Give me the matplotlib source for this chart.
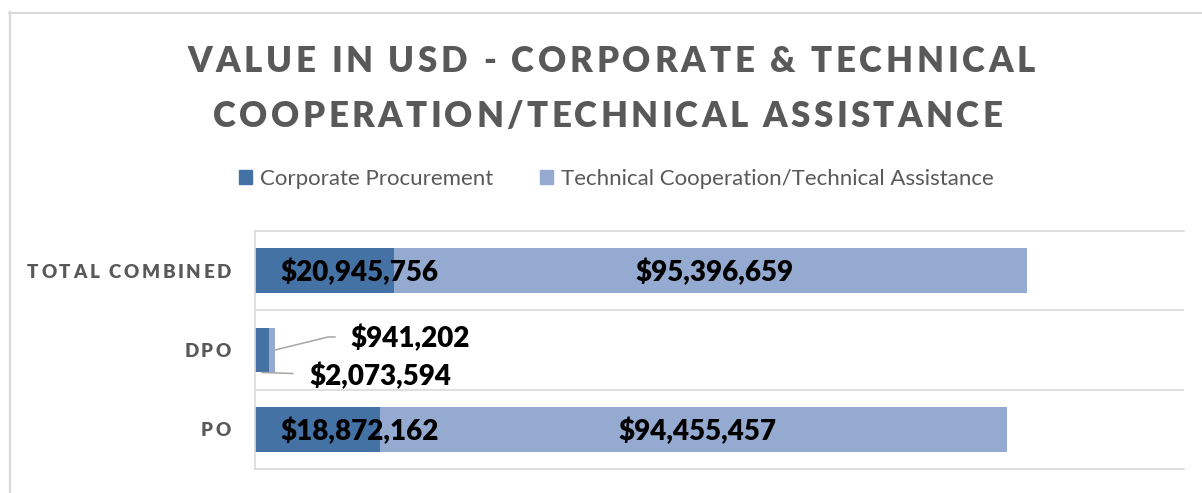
import matplotlib
matplotlib.use('Agg')
import matplotlib.pyplot as plt
import numpy as np
from matplotlib.font_manager import FontProperties, findfont, get_font
from matplotlib.lines import Line2D
from matplotlib.patches import Patch
from matplotlib.transforms import IdentityTransform
try:
    from matplotlib.ft2font import LoadFlags
    NOHINT = LoadFlags.NO_HINTING
except ImportError:
    from matplotlib.ft2font import LOAD_NO_HINTING as NOHINT

# ---------------- data ----------------
categories = ['PO', 'DPO', 'TOTAL COMBINED']
corporate = [18872162, 2073594, 20945756]
technical = [94455457, 941202, 95396659]
series_names = ['Corporate Procurement', 'Technical Cooperation/Technical Assistance']
title_lines = ['VALUE IN USD - CORPORATE & TECHNICAL', 'COOPERATION/TECHNICAL ASSISTANCE']

# ---------------- style ----------------
W, H, DPI = 1202, 493, 100
C_DARK = '#4572A5'
C_LIGHT = '#95AAD1'
C_GRID = '#D9D9D9'
C_TEXT = '#595959'
FONT = 'Lato'

fig = plt.figure(figsize=(W / DPI, H / DPI), dpi=DPI)


def advances(s, prop):
    font = get_font(findfont(prop))
    font.set_size(prop.get_size_in_points(), DPI)
    return [font.load_char(ord(c), flags=NOHINT).linearHoriAdvance / 65536 for c in s]


def spaced(s, prop, y_base, color, left=None, right=None, center=None,
           width=None, spacing=None):
    adv = advances(s, prop)
    n = len(s)
    if spacing is None:
        spacing = (width - sum(adv)) / (n - 1)
    total = sum(adv) + spacing * (n - 1)
    if left is None:
        left = right - total if right is not None else center - total / 2
    x = left
    for c, a in zip(s, adv):
        if c != ' ':
            fig.text(x / W, 1 - y_base / H, c, fontproperties=prop, color=color,
                     ha='left', va='baseline')
        x += a + spacing
    return spacing


# ---------------- chart frame ----------------
fig.add_artist(Line2D([8.5 / W, 1], [1 - 12.5 / H] * 2, transform=fig.transFigure,
                      color=C_GRID, lw=1.4))
fig.add_artist(Line2D([9.5 / W] * 2, [0, 1 - 12 / H], transform=fig.transFigure,
                      color=C_GRID, lw=1.6))

# ---------------- title ----------------
tprop = FontProperties(family=FONT, weight='heavy', size=25)
spaced(title_lines[0], tprop, 72, C_TEXT, center=611, width=848)
spaced(title_lines[1], tprop, 127, C_TEXT, center=607.5, width=789)

# ---------------- axes ----------------
ax = fig.add_axes([255 / W, 1 - 469 / H, 929 / W, 238 / H])
y = np.arange(len(categories))
bar_h = 0.567
corp = np.array(corporate, dtype=float)
tech = np.array(technical, dtype=float)
ax.barh(y, corp, height=bar_h, color=C_DARK, label=series_names[0])
ax.barh(y, tech, left=corp, height=bar_h, color=C_LIGHT, label=series_names[1])
ax.set_xlim(0, 140e6)
ax.set_ylim(-0.5, len(categories) - 0.5)
ax.set_xticks([])
ax.set_yticks([])
ax.set_yticks(np.arange(0.5, len(categories) - 0.5, 1), minor=True)
ax.grid(axis='y', which='minor', color=C_GRID, lw=1.2)
ax.tick_params(which='both', length=0, labelleft=False, labelbottom=False)
for side in ['top', 'bottom', 'left']:
    ax.spines[side].set_color(C_GRID)
    ax.spines[side].set_linewidth(1.2)
ax.spines['right'].set_visible(False)
ax.set_axisbelow(True)

# ---------------- category labels ----------------
lprop = FontProperties(family=FONT, weight='heavy', size=13.5)


def center_px(i):
    return H - ax.transData.transform((0, i))[1]


sp = None
order = [2, 1, 0]
for i in order:
    base = center_px(i) + 7
    if sp is None:
        sp = spaced(categories[i], lprop, base, C_TEXT, right=231, width=204)
    else:
        spaced(categories[i], lprop, base, C_TEXT, right=231, spacing=sp)

# ---------------- data labels ----------------
dprop = dict(family=FONT, weight='heavy', size=20, color='black')
for i in y:
    if categories[i] == 'DPO':
        continue
    ax.annotate(f'${corp[i]:,.0f}', xy=(0, i), xytext=(25, -10.5),
                textcoords='offset pixels', ha='left', va='baseline', **dprop)
    ax.annotate(f'${tech[i]:,.0f}', xy=(corp[i] + tech[i] / 2, i), xytext=(4, -10.5),
                textcoords='offset pixels', ha='center', va='baseline', **dprop)

# DPO callouts
d = categories.index('DPO')
a1 = np.array((corp[d] + tech[d], d))
ax.annotate(f'${tech[d]:,.0f}', xy=a1, xytext=(75, 3), textcoords='offset pixels',
            ha='left', va='baseline', **dprop)
p1 = ax.transData.transform(a1)
pts1 = p1 + np.array([[0, 0], [53, 13], [60, 13]])
fig.add_artist(Line2D(pts1[:, 0], pts1[:, 1], transform=IdentityTransform(),
                      color='#A6A6A6', lw=1.1))

a2 = np.array((corp[d] / 2, d - bar_h / 2))
ax.annotate(f'${corp[d]:,.0f}', xy=a2, xytext=(48, -13), textcoords='offset pixels',
            ha='left', va='baseline', **dprop)
p2 = ax.transData.transform(a2)
pts2 = p2 + np.array([[0, 0], [31, -1]])
fig.add_artist(Line2D(pts2[:, 0], pts2[:, 1], transform=IdentityTransform(),
                      color='#A6A6A6', lw=1.1))

# ---------------- legend ----------------
handles = [Patch(color=C_DARK), Patch(color=C_LIGHT)]
fs = 16
fig.legend(handles, series_names, loc='center', bbox_to_anchor=(616 / W, 1 - 179 / H),
           ncol=2, frameon=False, prop=dict(family=FONT, size=fs),
           labelcolor=C_TEXT, handlelength=0.6, handleheight=0.6,
           handletextpad=0.35, columnspacing=2.1, borderpad=0, borderaxespad=0)

fig.savefig('out.png', dpi=DPI)
